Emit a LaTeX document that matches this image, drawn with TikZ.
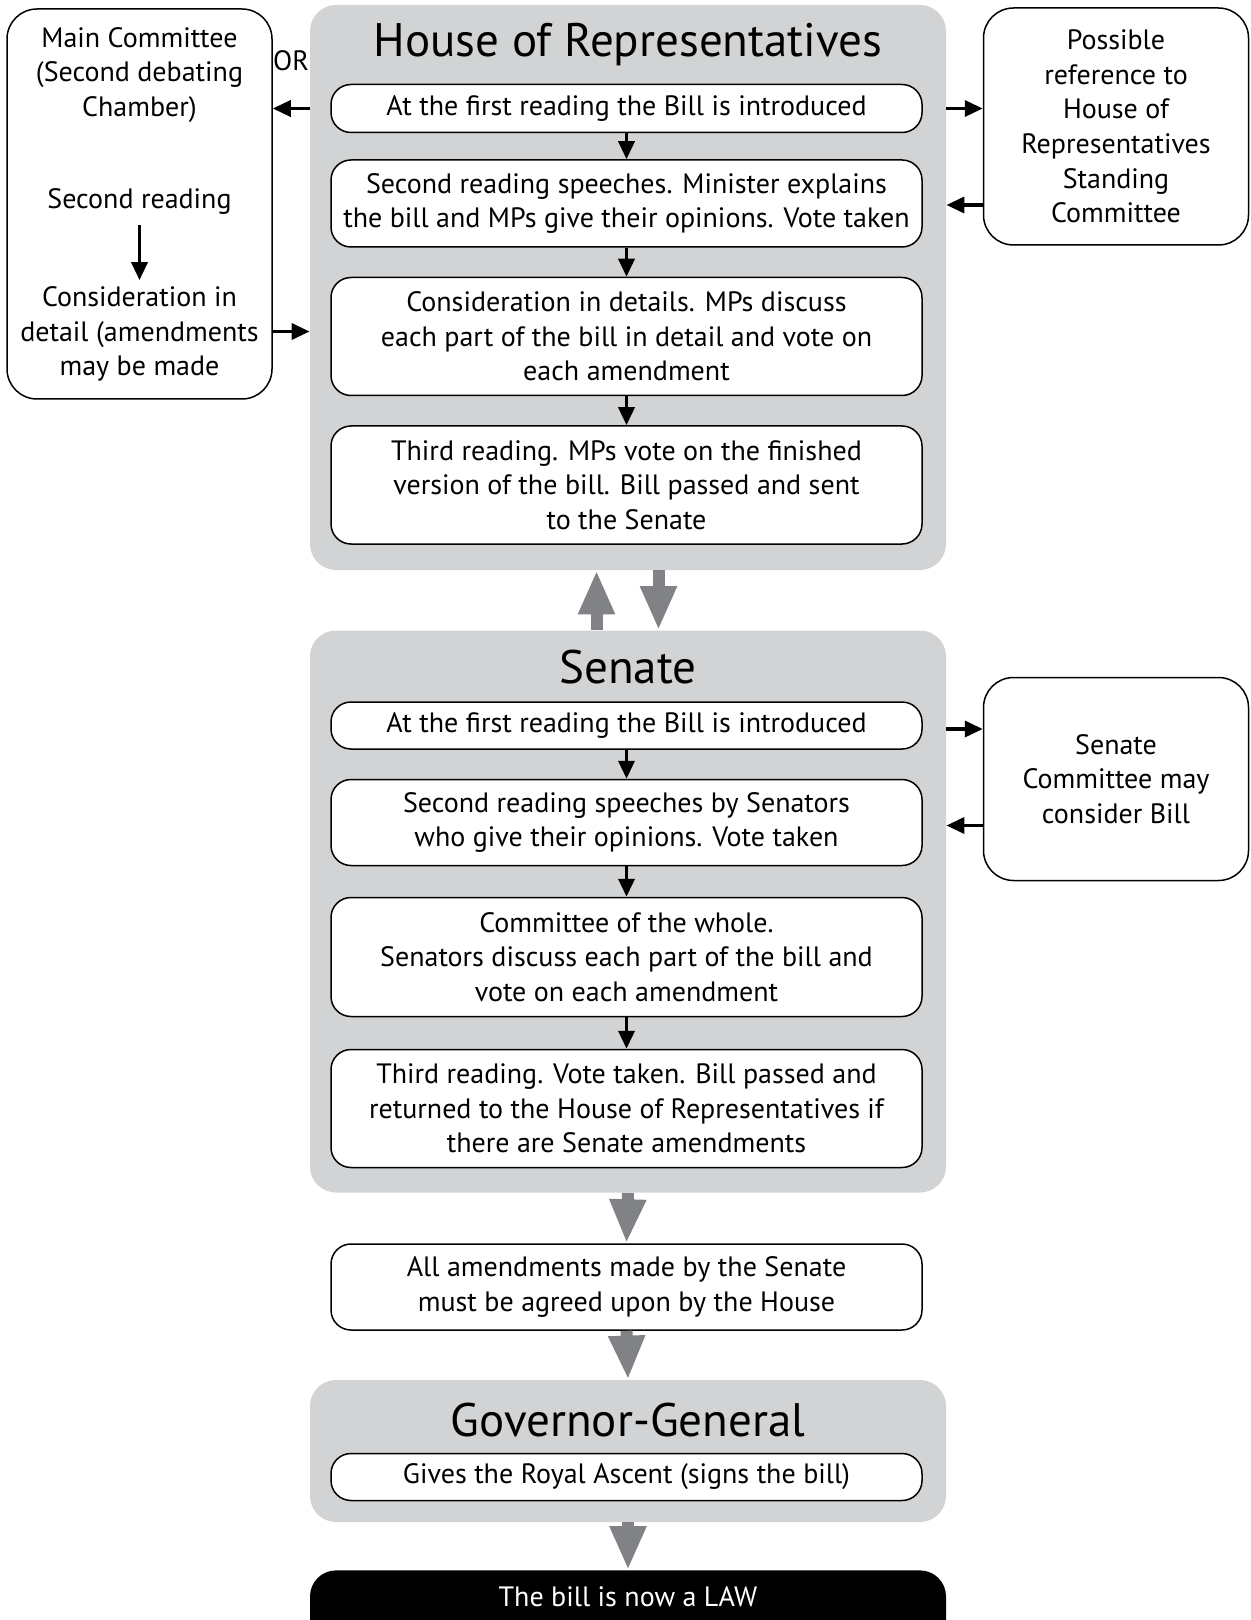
\documentclass[tikz,border=0pt]{standalone}
\usepackage{fontspec}
\setmainfont{PT Sans}
\usetikzlibrary{arrows.meta,calc}
\definecolor{panelgray}{HTML}{D1D3D4}
\definecolor{arrowgray}{HTML}{808285}
\begin{document}
\begin{tikzpicture}[x=0.5pt,y=-0.5pt,
  body/.style={font=\fontsize{14}{17.3}\selectfont},
  panel/.style={fill=panelgray, draw=none, rounded corners=13pt, minimum width=318pt, inner sep=0pt},
  paneltitle/.style={font=\fontsize{23.5}{28}\selectfont, inner sep=0pt, text height=0.72em, text depth=0pt},
  stepbox/.style={body, draw=black, line width=0.75pt, fill=white, rounded corners=10pt,
     minimum width=295.5pt, align=center, inner sep=0pt},
  sidebox/.style={body, draw=black, line width=0.75pt, fill=white, rounded corners=15pt,
     minimum width=132.5pt, align=center, inner sep=0pt},
  plain/.style={body, align=center, inner sep=1pt},
  blk/.style={line width=1.8pt, -{Triangle[length=9pt,width=8pt]}},
  garr/.style={draw=arrowgray, line width=6pt, -{Triangle[length=22pt,width=17pt]}, arrowgray},
]
\useasboundingbox (0,0) rectangle (1250,1620);
\fill[white] (0,0) rectangle (1250,1620);

% House of Representatives
\node[panel, minimum height=282.5pt] (house) at (628,287.5) {};
\node[paneltitle] (houset) at (628,49) {House of Representatives};
\node[stepbox, minimum height=24pt] (b1) at (626.5,108.5) {At the first reading the Bill is introduced};
\node[stepbox, minimum height=43.5pt] (b2) at (626.5,203.5) {Second reading speeches. Minister explains\\the bill and MPs give their opinions. Vote taken};
\node[stepbox, minimum height=59pt] (b3) at (626.5,336.5) {Consideration in details. MPs discuss\\each part of the bill in detail and vote on\\each amendment};
\node[stepbox, minimum height=59pt] (b4) at (626.5,485) {Third reading. MPs vote on the finished\\version of the bill. Bill passed and sent\\to the Senate};

% Main committee
\node[sidebox, minimum height=195pt] (main) at (139.5,204) {};
\node[plain] (mct) at (139.5,75) {Main Committee\\(Second debating\\Chamber)};
\node[plain] (mcs) at (139.5,202) {Second reading};
\node[plain] (mcc) at (139.5,334) {Consideration in\\detail (amendments\\may be made};
\node[body, inner sep=0pt] (or) at (291,61) {OR};

% Right committee
\node[sidebox, minimum height=118.5pt] (right) at (1116,126.5) {Possible\\reference to\\House of\\Representatives\\Standing\\Committee};

% Senate
\node[panel, minimum height=281pt] (senate) at (628,911.5) {};
\node[paneltitle] (senatet) at (628,676) {Senate};
\node[stepbox, minimum height=23.5pt] (s1) at (626.5,725.5) {At the first reading the Bill is introduced};
\node[stepbox, minimum height=43pt] (s2) at (626.5,822.5) {Second reading speeches by Senators\\who give their opinions. Vote taken};
\node[stepbox, minimum height=59.5pt] (s3) at (626.5,957) {Committee of the whole.\\Senators discuss each part of the bill and\\vote on each amendment};
\node[stepbox, minimum height=59pt] (s4) at (626.5,1108.5) {Third reading. Vote taken. Bill passed and\\returned to the House of Representatives if\\there are Senate amendments};
\node[sidebox, minimum height=101.5pt] (scomm) at (1116,779) {Senate\\Committee may\\consider Bill};

% Amendments
\node[stepbox, minimum height=43pt] (amend) at (626.5,1287) {All amendments made by the Senate\\must be agreed upon by the House};

% Governor-General
\node[panel, minimum height=71pt] (gov) at (628,1451) {};
\node[paneltitle] (govt) at (628,1429) {Governor-General};
\node[stepbox, minimum height=23.5pt] (g1) at (626.5,1477) {Gives the Royal Ascent (signs the bill)};

% Law
\node[body, fill=black, text=white, rounded corners=13pt, minimum width=318pt,
      inner sep=0pt, text height=18pt, text depth=20pt, anchor=north] (law) at (628,1570) {The bill is now a LAW};

% black arrows inside panels
\draw[blk] (b1) -- (b2);
\draw[blk] (b2) -- (b3);
\draw[blk] (b3) -- (b4);
\draw[blk] (s1) -- (s2);
\draw[blk] (s2) -- (s3);
\draw[blk] (s3) -- (s4);
\draw[blk, shorten <=4pt, shorten >=2pt] (mcs) -- (mcc);

% side arrows
\draw[blk] (b1.west -| house.west) -- (b1.west -| main.east);
\draw[blk] ($(main.east |- b3.west)+(0,-5)$) -- ($(house.west |- b3.west)+(0,-5)$);
\draw[blk] (b1.east -| house.east) -- (b1.east -| right.west);
\draw[blk] ($(right.west |- b2.east)+(0,1.5)$) -- ($(house.east |- b2.east)+(0,1.5)$);
\draw[blk] ($(senate.east |- s1.east)+(0,3.5)$) -- ($(scomm.west |- s1.east)+(0,3.5)$);
\draw[blk] ($(scomm.west |- s2.east)+(0,3)$) -- ($(senate.east |- s2.east)+(0,3)$);

% gray arrows
\draw[garr] ($(senate.north)+(-31.5,0)$) -- ($(house.south)+(-31.5,0)$);
\draw[garr] ($(house.south)+(30.5,0)$) -- ($(senate.north)+(30.5,0)$);
\draw[garr] (senate.south) -- (amend.north);
\draw[garr] (amend.south) -- (gov.north);
\draw[garr] (gov.south) -- (law.north);
\end{tikzpicture}
\end{document}
